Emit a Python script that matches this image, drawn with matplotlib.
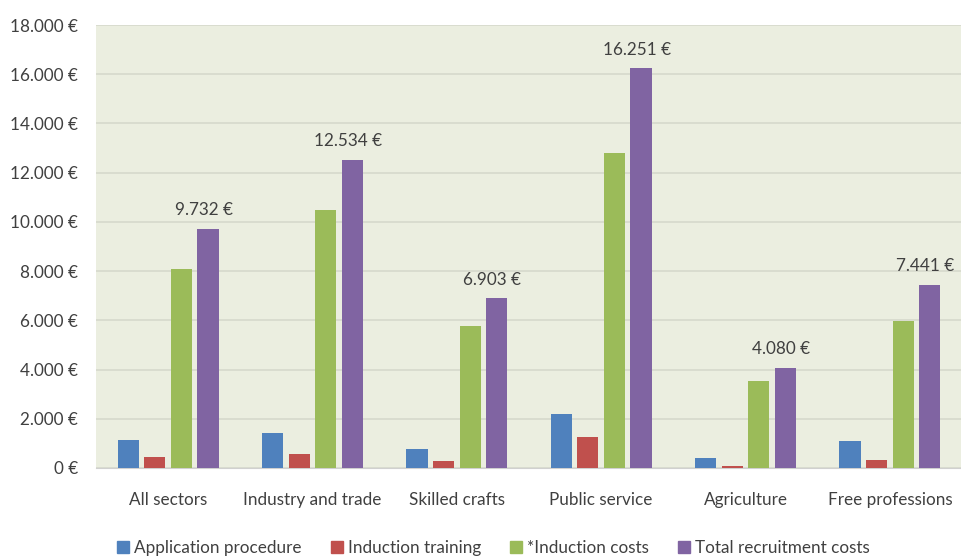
import matplotlib
matplotlib.use("Agg")
from matplotlib import pyplot as plt
from matplotlib.patches import Patch
import numpy as np

plt.rcParams["font.family"] = ["Lato", "DejaVu Sans"]

sectors = ["All sectors", "Industry and trade", "Skilled crafts",
           "Public service", "Agriculture", "Free professions"]
series_names = ["Application procedure", "Induction training",
                "*Induction costs", "Total recruitment costs"]
application = [1140, 1420, 780, 2190, 420, 1100]
training = [450, 570, 290, 1260, 80, 330]
induction = [8090, 10480, 5770, 12800, 3530, 5970]
total = [9732, 12534, 6903, 16251, 4080, 7441]
yticks = [0, 2000, 4000, 6000, 8000, 10000, 12000, 14000, 16000, 18000]

colors = ["#4F81BD", "#C0504D", "#9BBB59", "#8064A2"]
text_col = "#404040"
fs = 12.3


def euro(v):
    return "{:,} €".format(int(v)).replace(",", ".")


fig = plt.figure(figsize=(9.62, 5.57), dpi=100)
ax = fig.add_axes([0.0998, 0.1598, 0.9002, 0.7952])
ax.set_facecolor("#EBEEE0")

x = np.arange(len(sectors))
pitch = 0.184
width = 0.146
for i, (vals, c) in enumerate(zip([application, training, induction, total], colors)):
    ax.bar(x + (i - 1.5) * pitch, vals, width, color=c, zorder=3)

# value labels over the total bars
for xi, v in zip(x, total):
    ax.text(xi + 1.5 * pitch - 0.03, v + 430, euro(v), ha="center", va="bottom",
            fontsize=fs, color=text_col)

ax.set_xlim(-0.5, len(sectors) - 0.5)
ax.set_ylim(0, 18000)
ax.set_yticks(yticks)
ax.set_yticklabels([euro(t) for t in yticks])
ax.set_xticks(x)
ax.set_xticklabels(sectors)
ax.tick_params(axis="both", length=0, labelsize=fs, colors=text_col)
ax.tick_params(axis="y", pad=13)
ax.tick_params(axis="x", pad=17)
ax.grid(axis="y", color="#D6D9CC", linewidth=1.2, zorder=0)
for s in ["left", "right", "top"]:
    ax.spines[s].set_visible(False)
ax.spines["bottom"].set_color("#D0D0D0")

handles = [Patch(color=c, label=n) for c, n in zip(colors, series_names)]
fig.legend(handles=handles, loc="center", bbox_to_anchor=(0.513, 0.017),
           ncol=4, frameon=False, fontsize=fs, handlelength=0.7,
           handleheight=0.7, handletextpad=0.3, columnspacing=1.7,
           labelcolor=text_col)

fig.savefig("out.png", dpi=100)
